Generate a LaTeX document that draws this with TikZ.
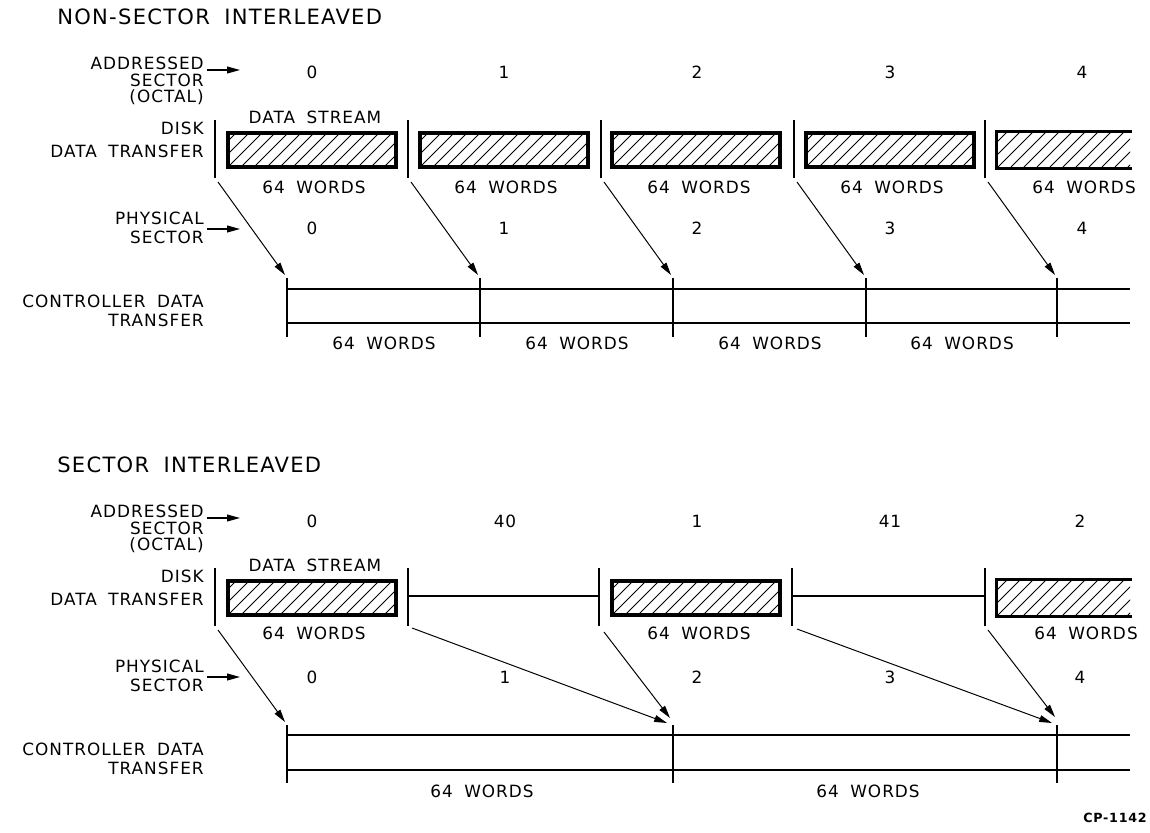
\documentclass[tikz,border=0pt]{standalone}
\usepackage{fontspec}
\setmainfont{DejaVu Sans}[LetterSpace=6, WordSpace=1.8]
\usetikzlibrary{arrows.meta, calc}

\begin{document}
\begin{tikzpicture}[x=0.025cm, y=-0.025cm, >={Triangle[length=3.2mm, width=1.7mm]}, every node/.style={font=\fontsize{12}{14}\selectfont, inner sep=0pt}]
\tikzset{
  lbl/.style={anchor=east, align=right},
  head/.style={anchor=west, font=\fontsize{15}{17}\selectfont},
  bar/.style={line width=1.3pt},
  ctl/.style={line width=1.9pt},
  edge/.style={line width=2.2pt},
  link/.style={->, line width=0.7pt},
  tag/.style={->, line width=0.8pt, shorten <=2pt},
  hatch/.style={draw, line width=2.2pt, minimum width=4.2cm, minimum height=0.85cm,
    path picture={\foreach \k in {-39,-26,...,182}
      \draw[line width=0.6pt] ($(path picture bounding box.south west)+(\k,0)$) -- ++(40,-40);}},
}
\useasboundingbox (0,0) rectangle (1150,833);
% labels on the left, same in both halves
\foreach \s/\yo/\ttl in {a/0/NON-SECTOR INTERLEAVED, b/448/SECTOR INTERLEAVED} {
  \node[head] (\s-ttl) at (57,17+\yo) {\ttl};
  \node[lbl] (\s-adrl) at (204,81+\yo) {ADDRESSED\\[-2.5pt]SECTOR\\[-2.5pt](OCTAL)};
  \node[lbl] (\s-dskl) at (204,140+\yo) {DISK\\[2pt]DATA TRANSFER};
  \node[lbl] (\s-phyl) at (204,228+\yo) {PHYSICAL\\SECTOR};
  \node[lbl] (\s-ctll) at (204,311+\yo) {CONTROLLER DATA\\TRANSFER};
  \coordinate (\s-adrp) at (240,70+\yo);
  \coordinate (\s-phyp) at (240,229+\yo);
  \draw[tag] (\s-adrl.east |- \s-adrp) -- (\s-adrp);
  \draw[tag] (\s-phyl.east |- \s-phyp) -- (\s-phyp);
}
% non-sector interleaved
\foreach \i/\bx/\cx/\dx in {0/215/312/287, 1/408/504/480, 2/601/697/673, 3/794/890/866, 4/985/1082/1057} {
  \node (a-adr\i) at (\cx,72) {\i};
  \node (a-phy\i) at (\cx,228) {\i};
  \node (a-w\i) at (\cx+2,187) {64 WORDS};
  \coordinate (a-bt\i) at (\bx,120);
  \coordinate (a-bb\i) at (\bx,178);
  \coordinate (a-dt\i) at (\dx,278);
  \coordinate (a-db\i) at (\dx,337);
  \draw[bar] (a-bt\i) -- (a-bb\i);
  \draw[bar] (a-dt\i) -- (a-db\i);
  \draw[link] ([shift={(3,4)}]a-bb\i) -- ([shift={(-2,-3)}]a-dt\i);
}
\foreach \i/\cx in {0/312, 1/504, 2/696, 3/890}
  \node[hatch] (a-box\i) at (\cx,150) {};
\node[hatch, draw=none, minimum width=3.3cm] (a-box4) at (1064,150) {};
\draw[edge] (a-box4.north east) -- (a-box4.north west) -- (a-box4.south west) -- (a-box4.south east);
\node (a-ds) at (315,117) {DATA STREAM};
\draw[ctl] (287,289) -- (1130,289);
\draw[ctl] (287,323) -- (1130,323);
\draw[ctl] (287,289) -- (287,323);
\foreach \i/\cx in {0/384, 1/577, 2/770, 3/962}
  \node (a-cw\i) at (\cx,343) {64 WORDS};
% sector interleaved
\foreach \i/\cx/\n in {0/312/0, 1/505/40, 2/697/1, 3/890/41, 4/1080/2} {
  \node (b-adr\i) at (\cx,521) {\n};
  \node (b-phy\i) at (\cx,677) {\i};
}
\foreach \i/\bx in {0/215, 1/408, 2/599, 3/792, 4/985} {
  \coordinate (b-bt\i) at (\bx,568);
  \coordinate (b-bb\i) at (\bx,626);
  \draw[bar] (b-bt\i) -- (b-bb\i);
}
\foreach \i/\dx in {0/287, 1/673, 2/1057} {
  \coordinate (b-dt\i) at (\dx,725);
  \coordinate (b-db\i) at (\dx,783);
  \draw[bar] (b-dt\i) -- (b-db\i);
}
\foreach \i/\cx in {0/312, 1/696}
  \node[hatch] (b-box\i) at (\cx,598) {};
\node[hatch, draw=none, minimum width=3.3cm] (b-box2) at (1064,598) {};
\draw[edge] (b-box2.north east) -- (b-box2.north west) -- (b-box2.south west) -- (b-box2.south east);
\draw[ctl] (b-bt1 |- 0,596) -- (b-bt2 |- 0,596);
\draw[ctl] (b-bt3 |- 0,596) -- (b-bt4 |- 0,596);
\node (b-ds) at (315,565) {DATA STREAM};
\foreach \i/\cx in {0/314, 1/699, 2/1086}
  \node (b-w\i) at (\cx,633) {64 WORDS};
% links to the controller
\draw[link] ([shift={(3,4)}]b-bb0) -- ([shift={(-2,-3)}]b-dt0);
\draw[link] ([shift={(4,2)}]b-bb1) -- ([shift={(-6,-2)}]b-dt1);
\draw[link] ([shift={(5,6)}]b-bb2) -- ([shift={(-3,-7)}]b-dt1);
\draw[link] ([shift={(5,3)}]b-bb3) -- ([shift={(-5,-2)}]b-dt2);
\draw[link] ([shift={(3,4)}]b-bb4) -- ([shift={(-2,-8)}]b-dt2);
\draw[ctl] (287,735) -- (1130,735);
\draw[ctl] (287,770) -- (1130,770);
\draw[ctl] (287,735) -- (287,770);
\foreach \i/\cx in {0/482, 1/868}
  \node (b-cw\i) at (\cx,791) {64 WORDS};
\node[font=\fontsize{9}{10}\selectfont\bfseries] (cp) at (1115,818) {CP-1142};
\end{tikzpicture}
\end{document}
